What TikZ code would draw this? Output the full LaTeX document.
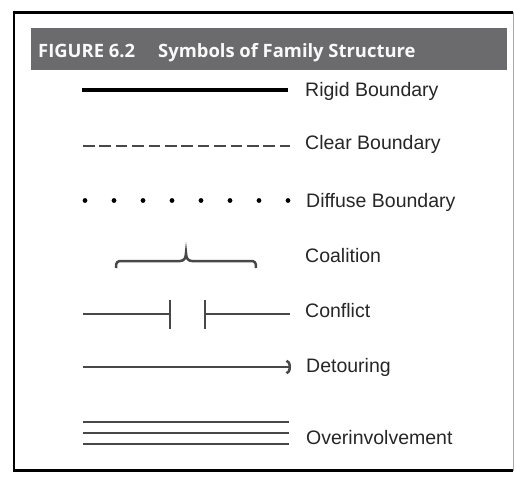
\documentclass[tikz,border=0pt]{standalone}
\usepackage{fontspec}
\setmainfont{Liberation Sans}
\newfontfamily\headfont{Open Sans}
\usetikzlibrary{arrows.meta}
\definecolor{headgray}{HTML}{6B6B6D}
\definecolor{linegray}{HTML}{484848}
\definecolor{textgray}{HTML}{262626}
\tikzset{
  symtext/.style={anchor=base west, inner sep=0pt, text=textgray,
    font=\fontsize{19.5bp}{22bp}\selectfont},
  headtext/.style={anchor=base west, inner sep=0pt, text=white!95!gray,
    font=\headfont\bfseries\fontsize{18.4bp}{21bp}\selectfont},
  symline/.style={draw=linegray, line width=2.5bp},
}
\begin{document}
\begin{tikzpicture}[x=1bp,y=-1bp]
    \useasboundingbox (0,0) rectangle (514,487);

    % frame
    \draw[gray!70, line width=1bp] (14,12.5) rectangle (513,470.5);
    \draw[black, line width=2.2bp] (513,12.5) -- (14,12.5) -- (14,470.5) -- (513,470.5);

    % header bar
    \fill[headgray] (31,28) rectangle (507,70);
    \node[headtext] (fig) at (38,58) {FIGURE 6.2};
    \node[headtext] (title) at (158,58) {Symbols of Family Structure};

    % rigid boundary
    \coordinate (Ra) at (82,90);
    \coordinate (Rb) at (288,90);
    \draw[black, line width=4bp] (Ra) -- (Rb);
    \node[symtext] (rigid) at (305,97) {Rigid Boundary};

    % clear boundary
    \coordinate (Ca) at (83,146);
    \coordinate (Cb) at (290,146);
    \draw[symline, dash pattern=on 11.5bp off 4.9bp] (Ca) -- (Cb);
    \node[symtext] (clear) at (305,150) {Clear Boundary};

    % diffuse boundary
    \foreach \i in {0,...,7} {
        \coordinate (D\i) at (85+29*\i,200.5);
        \fill[black] (D\i) circle (2.4bp);
    }
    \node[symtext] (diffuse) at (306,207) {Diffuse Boundary};

    % coalition
    \coordinate (Ka) at (116,268);
    \coordinate (Kt) at (186,253);
    \coordinate (Kb) at (256,268);
    \draw[symline] (Ka) .. controls (116,262) and (117,261) .. (122,261) -- (180,261)
        .. controls (184,261) and (186,258) .. (Kt)
        .. controls (186,258) and (188,261) .. (192,261) -- (250,261)
        .. controls (255,261) and (256,262) .. (Kb);
    \node[symtext] (coalition) at (305,262) {Coalition};

    % conflict
    \coordinate (Fa) at (83,314);
    \coordinate (Fb) at (170,314);
    \coordinate (Fc) at (205,314);
    \coordinate (Fd) at (290,314);
    \draw[symline] (Fa) -- (Fb);
    \draw[symline] (Fc) -- (Fd);
    \draw[symline] ([yshift=-15bp]Fb) -- ([yshift=14bp]Fb);
    \draw[symline] ([yshift=-15bp]Fc) -- ([yshift=14bp]Fc);
    \node[symtext] (conflict) at (305,317) {Conflict};

    % detouring
    \coordinate (Ta) at (83,367);
    \coordinate (Tb) at (291,367);
    \draw[symline, -{Arc Barb[length=4.5bp, width=15bp, line width=2.5bp]}] (Ta) -- (Tb);
    \node[symtext] (detour) at (306,372) {Detouring};

    % overinvolvement
    \foreach \y/\idx in {422/1, 433/2, 444/3} {
        \coordinate (Oa\idx) at (83,\y);
        \coordinate (Ob\idx) at (289,\y);
        \draw[symline, line width=2.8bp] (Oa\idx) -- (Ob\idx);
    }
    \node[symtext] (overinv) at (306,444) {Overinvolvement};
\end{tikzpicture}
\end{document}
